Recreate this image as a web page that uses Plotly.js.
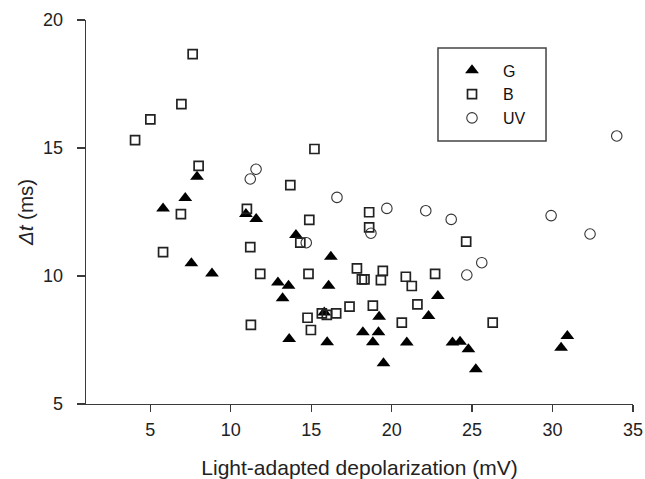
<!DOCTYPE html>
<html>
<head>
<meta charset="utf-8">
<script src="https://cdn.plot.ly/plotly-3.0.1.min.js"></script>
<style>
  html, body { margin: 0; padding: 0; background: #fff; }
  #chart { width: 645px; height: 479px; }
</style>
</head>
<body>
<div id="chart"></div>
<script>
// Light-adapted depolarization (mV) vs. delay Δt (ms), by photoreceptor class
const gX = [7.90, 7.17, 5.79, 7.55, 8.83, 10.94, 11.58, 14.05, 16.22, 12.93,
            13.59, 16.08, 13.22, 15.81, 19.22, 13.63, 15.99, 18.21, 19.18, 18.83,
            19.49, 22.87, 22.29, 20.94, 23.78, 24.25, 24.77, 25.23, 30.92, 30.53];
const gY = [13.88, 13.05, 12.64, 10.50, 10.10, 12.42, 12.23, 11.60, 10.75, 9.75,
            9.62, 9.62, 9.13, 8.57, 8.41, 7.54, 7.41, 7.80, 7.80, 7.41,
            6.59, 9.22, 8.44, 7.40, 7.40, 7.43, 7.14, 6.36, 7.66, 7.20];

const bX = [7.63, 6.93, 5.00, 4.05, 8.00, 6.90, 5.79, 11.00, 11.21, 11.83,
            11.25, 15.20, 13.70, 18.60, 18.60, 14.88, 14.32, 14.83, 17.84, 18.15,
            18.31, 19.45, 19.33, 14.77, 15.66, 15.97, 16.55, 17.38, 18.83, 20.63,
            14.98, 24.63, 22.70, 20.88, 21.25, 21.60, 26.28];
const bY = [18.67, 16.71, 16.12, 15.31, 14.30, 12.42, 10.93, 12.62, 11.13, 10.08,
            8.09, 14.96, 13.55, 12.49, 11.90, 12.19, 11.30, 10.08, 10.30, 9.87,
            9.87, 10.20, 9.84, 8.37, 8.54, 8.48, 8.54, 8.80, 8.84, 8.18,
            7.89, 11.34, 10.08, 9.97, 9.61, 8.89, 8.18];

const uvX = [11.21, 11.57, 16.60, 19.70, 18.71, 14.69, 22.12, 23.70, 25.60, 24.67,
             33.99, 29.91, 32.33];
const uvY = [13.79, 14.17, 13.07, 12.64, 11.67, 11.30, 12.55, 12.21, 10.52, 10.04,
             15.47, 12.36, 11.64];

const xTicks = [5, 10, 15, 20, 25, 30, 35];
const yTicks = [5, 10, 15, 20];

const FONT = 'Arial, "Liberation Sans", Helvetica, sans-serif';
const AXIS = '#3a3a3a';

const traces = [
  {
    x: gX, y: gY, name: 'G', type: 'scatter', mode: 'markers',
    marker: { symbol: 'triangle-up', size: 12, color: '#000', line: { width: 0 } }
  },
  {
    x: bX, y: bY, name: 'B', type: 'scatter', mode: 'markers',
    marker: { symbol: 'square-open', size: 9, color: '#222', line: { width: 1.7 } }
  },
  {
    x: uvX, y: uvY, name: 'UV', type: 'scatter', mode: 'markers',
    marker: { symbol: 'circle-open', size: 10.5, color: '#333', line: { width: 1.1 } }
  }
];

const layout = {
  width: 645, height: 479,
  margin: { l: 86, r: 12, t: 20, b: 75 },
  paper_bgcolor: '#fff', plot_bgcolor: '#fff',
  font: { family: FONT, color: '#222' },
  showlegend: true,
  legend: {
    x: 0.649, y: 0.913, xanchor: 'left', yanchor: 'top',
    bgcolor: 'rgba(0,0,0,0)', borderwidth: 0,
    itemwidth: 52,
    font: { family: FONT, size: 16, color: '#111' }
  },
  xaxis: {
    range: [1, 35], tickvals: xTicks, ticktext: xTicks.map(String),
    showgrid: false, zeroline: false, showline: true,
    linecolor: AXIS, linewidth: 1.3,
    ticks: 'outside', ticklen: 7, tickwidth: 1.3, tickcolor: AXIS,
    ticklabelstandoff: 2,
    tickfont: { family: FONT, size: 18, color: '#222' },
    title: { text: 'Light-adapted depolarization (mV)', standoff: 23,
             font: { family: FONT, size: 21, color: '#222' } }
  },
  yaxis: {
    range: [5, 20], tickvals: yTicks, ticktext: yTicks.map(String),
    showgrid: false, zeroline: false, showline: true,
    linecolor: AXIS, linewidth: 1.3,
    ticks: 'outside', ticklen: 8, tickwidth: 1.3, tickcolor: AXIS,
    ticklabelstandoff: 10,
    tickfont: { family: FONT, size: 18, color: '#222' },
    title: { text: '<i>Δt</i> (ms)', standoff: 4,
             font: { family: FONT, size: 20.5, color: '#222' } }
  },
  shapes: [
    // legend frame
    { type: 'rect', xref: 'paper', yref: 'paper',
      x0: 0.6435, x1: 0.841, y0: 0.685, y1: 0.927,
      line: { color: '#444', width: 1.5 }, fillcolor: 'rgba(0,0,0,0)' }
  ]
};

Plotly.newPlot('chart', traces, layout, { displayModeBar: false, staticPlot: true });
</script>
</body>
</html>
